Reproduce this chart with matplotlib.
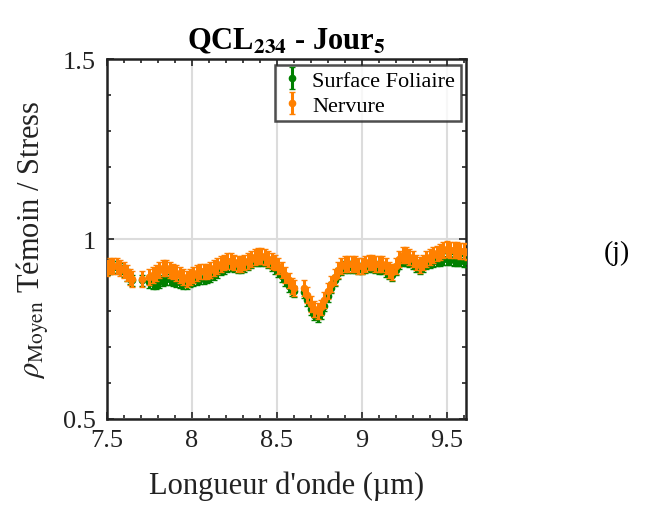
import matplotlib
matplotlib.use("Agg")
import matplotlib.pyplot as plt
import numpy as np
from matplotlib.ticker import AutoMinorLocator

# longueurs d'onde (µm) - trous entre 7.65/7.71 et 8.60/8.66
wavelength = [
    7.50, 7.52, 7.54, 7.56, 7.58, 7.60, 7.62, 7.64, 7.65,
    7.71,
    7.75, 7.77, 7.79, 7.81, 7.83, 7.85, 7.87, 7.89, 7.91, 7.93, 7.95, 7.97, 7.99,
    8.01, 8.03, 8.05, 8.07, 8.09, 8.11, 8.13, 8.15, 8.17, 8.19, 8.21, 8.23, 8.25,
    8.27, 8.29, 8.31, 8.33, 8.35, 8.37, 8.39, 8.41, 8.43, 8.45, 8.47, 8.49, 8.51,
    8.53, 8.55, 8.57, 8.59, 8.60,
    8.66, 8.68, 8.70, 8.72, 8.74, 8.76, 8.78, 8.80, 8.82, 8.84, 8.86, 8.88, 8.90,
    8.92, 8.94, 8.96, 8.98, 9.00, 9.02, 9.04, 9.06, 9.08, 9.10, 9.12, 9.14, 9.16,
    9.18, 9.20, 9.22, 9.24, 9.26, 9.28, 9.30, 9.32, 9.34, 9.36, 9.38, 9.40, 9.42,
    9.44, 9.46, 9.48, 9.50, 9.52, 9.54, 9.56, 9.58, 9.60, 9.62,
]

nervure = [
    0.920, 0.925, 0.925, 0.925, 0.920, 0.915, 0.905, 0.895, 0.890,
    0.890,
    0.895, 0.900, 0.905, 0.915, 0.920, 0.920, 0.915, 0.910, 0.905, 0.900, 0.895, 0.890, 0.895,
    0.900, 0.905, 0.910, 0.910, 0.910, 0.915, 0.920, 0.925, 0.930, 0.935, 0.940, 0.940, 0.935,
    0.930, 0.930, 0.935, 0.940, 0.945, 0.950, 0.952, 0.952, 0.950, 0.945, 0.940, 0.935, 0.925,
    0.915, 0.900, 0.885, 0.870, 0.865,
    0.865, 0.845, 0.820, 0.805, 0.800, 0.810, 0.830, 0.855, 0.875, 0.895, 0.915, 0.925, 0.930,
    0.930, 0.930, 0.930, 0.925, 0.925, 0.930, 0.935, 0.935, 0.930, 0.930, 0.930, 0.925, 0.915,
    0.908, 0.925, 0.945, 0.955, 0.955, 0.950, 0.945, 0.935, 0.928, 0.935, 0.944, 0.950, 0.955,
    0.960, 0.965, 0.970, 0.972, 0.970, 0.970, 0.970, 0.968, 0.966, 0.965,
]

surface = [
    0.915, 0.920, 0.922, 0.922, 0.918, 0.912, 0.900, 0.890, 0.885,
    0.885,
    0.880, 0.878, 0.878, 0.880, 0.885, 0.888, 0.888, 0.885, 0.882, 0.880, 0.878, 0.878, 0.882,
    0.885, 0.888, 0.890, 0.892, 0.895, 0.898, 0.902, 0.908, 0.915, 0.920, 0.925, 0.928, 0.925,
    0.922, 0.922, 0.925, 0.930, 0.935, 0.940, 0.942, 0.942, 0.940, 0.935, 0.928, 0.920, 0.910,
    0.898, 0.885, 0.870, 0.858, 0.855,
    0.852, 0.830, 0.805, 0.790, 0.785, 0.795, 0.815, 0.842, 0.865, 0.885, 0.905, 0.915, 0.922,
    0.922, 0.922, 0.922, 0.918, 0.918, 0.922, 0.925, 0.925, 0.922, 0.920, 0.918, 0.912, 0.905,
    0.900, 0.915, 0.932, 0.940, 0.940, 0.938, 0.932, 0.925, 0.920, 0.925, 0.932, 0.936, 0.938,
    0.940, 0.942, 0.944, 0.945, 0.944, 0.942, 0.940, 0.940, 0.938, 0.938,
]

err_nervure = 0.022
err_surface = 0.016

xticks = [7.5, 8, 8.5, 9, 9.5]
xticklabels = ["7.5", "8", "8.5", "9", "9.5"]
yticks = [0.5, 1, 1.5]
yticklabels = ["0.5", "1", "1.5"]

plt.rcParams["font.family"] = ["Liberation Serif", "DejaVu Serif"]
plt.rcParams["mathtext.fontset"] = "stix"

fig = plt.figure(figsize=(6.46, 5.06), dpi=100)
ax = fig.add_axes([0.165, 0.170, 0.5565, 0.711])

green = "#008000"
orange = "#ff8000"

ax.errorbar(wavelength, surface, yerr=err_surface, fmt="o", color=green, ms=4.5,
            mew=1, elinewidth=2.2, capsize=2.5, capthick=1.5,
            label="Surface Foliaire", zorder=3)
ax.errorbar(wavelength, nervure, yerr=err_nervure, fmt="o", color=orange, ms=4.5,
            mew=1, elinewidth=2.2, capsize=2.5, capthick=1.5,
            label="Nervure", zorder=4)

ax.set_xlim(7.5, 9.613)
ax.set_ylim(0.5, 1.5)
ax.set_xticks(xticks)
ax.set_xticklabels(xticklabels)
ax.set_yticks(yticks)
ax.set_yticklabels(yticklabels)
ax.xaxis.set_minor_locator(AutoMinorLocator(5))
ax.yaxis.set_minor_locator(AutoMinorLocator(5))
ax.tick_params(which="both", direction="in", top=True, right=True, width=1.2,
               labelsize=19, colors="#222222")
ax.tick_params(axis="x", which="major", length=5, pad=7)
ax.tick_params(axis="y", which="major", length=5, pad=8)
ax.tick_params(which="minor", length=3)
ax.grid(True, which="major", color="#dcdcdc", linewidth=1.5)
ax.set_axisbelow(True)
for sp in ax.spines.values():
    sp.set_linewidth(1.8)
    sp.set_color("#222222")

ax.set_xlabel("Longueur d'onde (µm)", fontsize=22, color="#222222", labelpad=14)
ax.set_ylabel(r"$\rho_{\mathrm{Moyen}}$ Témoin / Stress", fontsize=22, color="#222222",
              labelpad=8)
ax.set_title(r"QCL$_{\mathbf{234}}$ - Jour$_{\mathbf{5}}$", fontsize=22, fontweight="bold",
             pad=8)

leg = ax.legend(loc="upper right", fontsize=16, frameon=True, fancybox=False,
                edgecolor="#222222", borderaxespad=0.25, handlelength=1.0,
                handletextpad=0.4, borderpad=0.25, labelspacing=0.2)
leg.get_frame().set_linewidth(1.8)

fig.text(0.955, 0.50, "(j)", fontsize=20, ha="center", va="center")

fig.savefig("out.png", dpi=100)
